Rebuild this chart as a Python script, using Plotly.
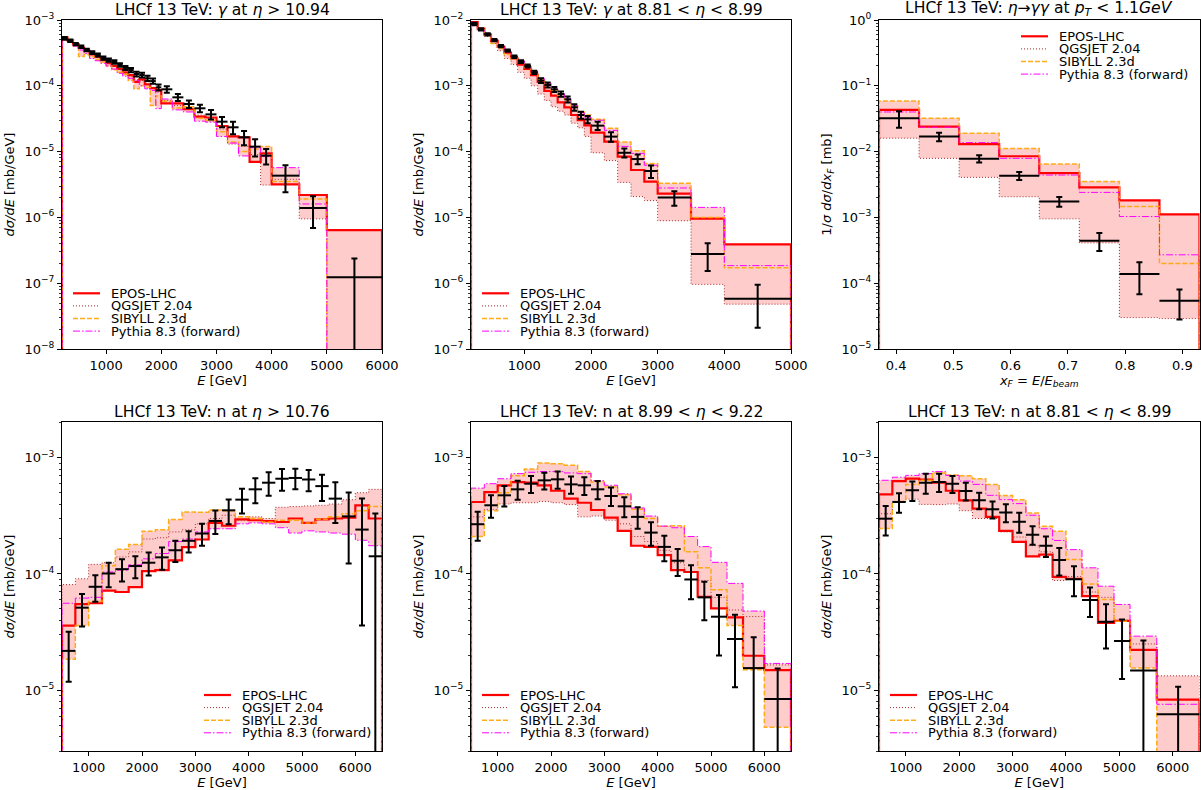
import numpy as np
import plotly.graph_objects as go

# ---------------- data ----------------
# Panel 1: photons, eta > 10.94
g1_edges = [200, 300, 400, 500, 600, 700, 800, 900, 1000, 1100, 1200, 1300, 1400, 1500, 1600, 1700, 1800, 1900, 2000,
            2200, 2400, 2600, 2800, 3000, 3200, 3400, 3600, 3800, 4000, 4500, 5000, 6000]
g1_data = [5.26e-4, 4.85e-4, 4.31e-4, 3.93e-4, 3.50e-4, 3.19e-4, 2.94e-4, 2.64e-4, 2.46e-4, 2.30e-4, 2.07e-4, 1.87e-4,
           1.74e-4, 1.51e-4, 1.46e-4, 1.30e-4, 1.18e-4, 9.48e-5, 8.84e-5, 6.68e-5, 5.29e-5, 4.55e-5, 3.68e-5, 2.85e-5,
           2.34e-5, 1.65e-5, 1.19e-5, 8.68e-6, 4.31e-6, 1.39e-6, 1.23e-7]
g1_err = [2.5e-5, 2.0e-5, 1.8e-5, 1.6e-5, 1.5e-5, 1.5e-5, 1.5e-5, 1.5e-5, 1.4e-5, 1.4e-5, 1.3e-5, 1.3e-5, 1.3e-5,
          1.2e-5, 1.2e-5, 1.2e-5, 1.1e-5, 1.0e-5, 1.0e-5, 8e-6, 7e-6, 6e-6, 6e-6, 5e-6, 5e-6, 4e-6, 3.5e-6, 2.3e-6,
          1.9e-6, 7e-7, 1.15e-7]
g1_epos = [5.4e-4, 4.9e-4, 4.3e-4, 3.8e-4, 3.4e-4, 3.0e-4, 2.75e-4, 2.45e-4, 2.2e-4, 2.0e-4, 1.8e-4, 1.6e-4, 1.45e-4,
           1.15e-4, 1.25e-4, 1.05e-4, 9.2e-5, 8.6e-5, 5.4e-5, 5.4e-5, 4.4e-5, 3.4e-5, 3.3e-5, 2.45e-5, 1.7e-5, 1.65e-5,
           7.0e-6, 9.4e-6, 3.18e-6, 2.19e-6, 6.4e-7]
g1_qgs = [5.3e-4, 4.8e-4, 4.2e-4, 3.7e-4, 3.3e-4, 3.0e-4, 2.7e-4, 2.4e-4, 2.2e-4, 2.0e-4, 1.75e-4, 1.55e-4, 1.4e-4,
          1.25e-4, 1.2e-4, 1.1e-4, 9.5e-5, 8.0e-5, 6.0e-5, 5.0e-5, 4.5e-5, 3.6e-5, 2.9e-5, 2.2e-5, 1.3e-5, 1.2e-5,
          9.0e-6, 3.1e-6, 3.8e-6, 9.5e-7, 0]
g1_sib = [5.5e-4, 4.7e-4, 4.1e-4, 2.8e-4, 3.0e-4, 2.8e-4, 2.5e-4, 2.3e-4, 2.0e-4, 1.75e-4, 1.6e-4, 1.5e-4, 1.2e-4,
          9.0e-5, 1.0e-4, 9.5e-5, 5.0e-5, 7.0e-5, 5.8e-5, 4.6e-5, 4.8e-5, 3.2e-5, 3.0e-5, 2.0e-5, 1.4e-5, 1.0e-5,
          1.1e-5, 1.2e-5, 3.5e-6, 1.9e-6, 0]
g1_py = [5.2e-4, 4.6e-4, 4.0e-4, 3.5e-4, 3.1e-4, 2.6e-4, 2.4e-4, 2.2e-4, 2.0e-4, 1.8e-4, 1.55e-4, 1.4e-4, 1.3e-4,
         1.2e-4, 1.0e-4, 9.0e-5, 8.5e-5, 4.5e-5, 6.3e-5, 4.3e-5, 4.0e-5, 2.9e-5, 2.8e-5, 1.7e-5, 1.35e-5, 8.6e-6,
         1.15e-5, 8.4e-6, 5.7e-6, 1.6e-6, 0]

# Panel 2: photons, 8.81 < eta < 8.99
g2_edges = [200, 300, 400, 500, 600, 700, 800, 900, 1000, 1100, 1200, 1300, 1400, 1500, 1600, 1700, 1800, 1900, 2000,
            2200, 2400, 2600, 2800, 3000, 3500, 4000, 5000]
g2_data = [8.7e-3, 7.2e-3, 6.05e-3, 4.96e-3, 4.02e-3, 3.42e-3, 2.77e-3, 2.33e-3, 2.0e-3, 1.6e-3, 1.2e-3, 1.03e-3,
           8.83e-4, 7.5e-4, 6.22e-4, 4.71e-4, 3.6e-4, 3.09e-4, 2.48e-4, 1.69e-4, 9.6e-5, 7.7e-5, 5.07e-5, 2.0e-5,
           2.78e-6, 5.8e-7]
g2_err = [3.5e-4, 2.8e-4, 2.3e-4, 1.9e-4, 1.6e-4, 1.4e-4, 1.2e-4, 1.1e-4, 1.0e-4, 9e-5, 1.0e-4, 9e-5, 8e-5, 7e-5,
          6.5e-5, 5.5e-5, 4.5e-5, 4e-5, 3.5e-5, 2.8e-5, 1.5e-5, 1.3e-5, 1.1e-5, 5e-6, 1.25e-6, 3.7e-7]
g2_epos = [9.3e-3, 7.4e-3, 6.0e-3, 4.8e-3, 3.9e-3, 3.2e-3, 2.6e-3, 2.1e-3, 1.8e-3, 1.45e-3, 1.15e-3, 8.4e-4, 7.1e-4,
           5.6e-4, 4.7e-4, 3.6e-4, 3.0e-4, 2.5e-4, 1.94e-4, 1.42e-4, 8.4e-5, 5.25e-5, 3.5e-5, 2.3e-5, 9.6e-6, 3.9e-6]
g2_qgs = [9.0e-3, 7.0e-3, 5.6e-3, 4.4e-3, 3.4e-3, 2.6e-3, 2.1e-3, 1.6e-3, 1.3e-3, 1.0e-3, 7.5e-4, 6.0e-4, 4.8e-4,
          4.1e-4, 3.6e-4, 2.7e-4, 2.3e-4, 1.7e-4, 9.6e-5, 7.3e-5, 3.4e-5, 2.07e-5, 1.8e-5, 8.9e-6, 9.6e-7, 4.8e-7]
g2_sib = [8.6e-3, 7.1e-3, 5.8e-3, 4.4e-3, 3.7e-3, 3.0e-3, 2.6e-3, 2.2e-3, 1.9e-3, 1.55e-3, 1.25e-3, 1.05e-3, 8.6e-4,
          7.2e-4, 6.0e-4, 4.9e-4, 4.0e-4, 3.6e-4, 3.1e-4, 2.26e-4, 1.4e-4, 1.03e-4, 6.6e-5, 3.3e-5, 1.0e-5, 1.72e-6]
g2_py = [8.8e-3, 7.2e-3, 6.0e-3, 4.9e-3, 4.0e-3, 3.3e-3, 2.8e-3, 2.4e-3, 2.0e-3, 1.65e-3, 1.3e-3, 1.1e-3, 9.0e-4,
         7.6e-4, 6.4e-4, 5.0e-4, 3.9e-4, 3.3e-4, 3.0e-4, 2.1e-4, 1.2e-4, 9.4e-5, 6.2e-5, 2.8e-5, 1.42e-5, 1.85e-6]

# Panel 3: eta meson -> gamma gamma, pT < 1.1 GeV
e_edges = [0.37, 0.44, 0.51, 0.58, 0.65, 0.72, 0.79, 0.86, 0.93]
e_data = [3.2e-2, 1.69e-2, 7.8e-3, 4.3e-3, 1.75e-3, 4.43e-4, 1.38e-4, 5.4e-5]
e_err = [9e-3, 2.5e-3, 1.0e-3, 6e-4, 3e-4, 1.35e-4, 7e-5, 2.6e-5]
e_epos = [4.3e-2, 2.39e-2, 1.3e-2, 8.5e-3, 4.7e-3, 2.86e-3, 1.82e-3, 1.11e-3]
e_qgs = [1.6e-2, 7.9e-3, 4.06e-3, 2.06e-3, 9.5e-4, 4.1e-4, 3.0e-5, 2.9e-5]
e_sib = [5.9e-2, 3.2e-2, 1.9e-2, 1.11e-2, 6.5e-3, 3.5e-3, 1.46e-3, 2.0e-4]
e_py = [4.0e-2, 2.35e-2, 1.37e-2, 7.9e-3, 4.4e-3, 2.4e-3, 1.03e-3, 2.7e-4]

# Panel 4: neutrons, eta > 10.76
n1_edges = [500, 750, 1000, 1250, 1500, 1750, 2000, 2250, 2500, 2750, 3000, 3250, 3500, 3750, 4000, 4250, 4500,
            4750, 5000, 5250, 5500, 5750, 6000, 6250, 6500]
n1_data = [2.18e-5, 5.13e-5, 7.76e-5, 1.01e-4, 1.10e-4, 1.17e-4, 1.25e-4, 1.39e-4, 1.6e-4, 1.93e-4, 2.23e-4, 2.86e-4,
           3.53e-4, 4.36e-4, 5.35e-4, 6.1e-4, 6.6e-4, 6.7e-4, 6.5e-4, 5.7e-4, 4.45e-4, 3.13e-4, 2.41e-4, 1.42e-4]
n1_err = [1.0e-5, 1.6e-5, 2.0e-5, 2.4e-5, 2.4e-5, 2.5e-5, 2.8e-5, 3.0e-5, 3.3e-5, 4.0e-5, 4.8e-5, 6.5e-5, 8.5e-5,
          1.05e-4, 1.3e-4, 1.4e-4, 1.4e-4, 1.35e-4, 1.35e-4, 1.45e-4, 1.7e-4, 1.9e-4, 2.05e-4, 1.9e-4]
n1_epos = [3.6e-5, 5.5e-5, 5.6e-5, 7.2e-5, 7.0e-5, 7.7e-5, 1.06e-4, 1.08e-4, 1.31e-4, 1.7e-4, 1.98e-4, 2.75e-4,
           2.6e-4, 2.95e-4, 2.9e-4, 2.85e-4, 2.8e-4, 3.0e-4, 2.75e-4, 2.95e-4, 3.0e-4, 3.05e-4, 3.9e-4, 3.0e-4]
n1_qgs = [8.1e-5, 9.1e-5, 1.21e-4, 1.25e-4, 1.4e-4, 1.55e-4, 2.0e-4, 2.05e-4, 2.3e-4, 2.4e-4, 2.7e-4, 3.0e-4,
          3.2e-4, 2.9e-4, 3.1e-4, 3.0e-4, 3.75e-4, 3.8e-4, 3.85e-4, 3.9e-4, 4.0e-4, 4.35e-4, 5.0e-4, 5.35e-4]
n1_sib = [1.85e-5, 3.6e-5, 5.8e-5, 1.18e-4, 1.63e-4, 1.79e-4, 2.33e-4, 2.4e-4, 2.94e-4, 3.42e-4, 3.4e-4, 3.55e-4,
          3.5e-4, 3.1e-4, 3.0e-4, 2.8e-4, 2.9e-4, 2.9e-4, 2.75e-4, 2.95e-4, 3.1e-4, 3.3e-4, 3.5e-4, 3.8e-4]
n1_py = [5.6e-5, 6.2e-5, 6.3e-5, 1.04e-4, 1.08e-4, 1.2e-4, 1.35e-4, 1.5e-4, 1.9e-4, 2.0e-4, 2.3e-4, 2.45e-4,
         2.45e-4, 2.7e-4, 2.75e-4, 2.7e-4, 2.5e-4, 2.25e-4, 2.35e-4, 2.3e-4, 2.25e-4, 2.2e-4, 1.95e-4, 1.75e-4]

# Panel 5: neutrons, 8.99 < eta < 9.22
n2_edges = [500, 750, 1000, 1250, 1500, 1750, 2000, 2250, 2500, 2750, 3000, 3250, 3500, 3750, 4000, 4250, 4500,
            4750, 5000, 5300, 5600, 6000, 6500]
n2_data = [2.68e-4, 3.9e-4, 4.75e-4, 5.35e-4, 5.98e-4, 6.39e-4, 6.52e-4, 5.9e-4, 5.79e-4, 5.35e-4, 4.69e-4, 3.82e-4,
           3.1e-4, 2.27e-4, 1.71e-4, 1.3e-4, 8.97e-5, 6.29e-5, 4.29e-5, 2.76e-5, 1.55e-5, 8.4e-6]
n2_err = [7.5e-5, 8.5e-5, 9.5e-5, 1.0e-4, 1.0e-4, 1.05e-4, 1.1e-4, 1.0e-4, 1.0e-4, 9.5e-5, 8.5e-5, 7.5e-5, 6.5e-5,
          5.2e-5, 4.2e-5, 3.4e-5, 2.9e-5, 2.3e-5, 2.3e-5, 1.7e-5, 1.3e-5, 7e-6]
n2_epos = [4.16e-4, 5.07e-4, 5.78e-4, 6.18e-4, 6.1e-4, 5.78e-4, 5.2e-4, 4.45e-4, 4.1e-4, 3.55e-4, 3.05e-4, 2.35e-4,
           1.75e-4, 1.71e-4, 1.45e-4, 1.08e-4, 1.04e-4, 6.37e-5, 5.06e-5, 4.24e-5, 1.98e-5, 1.49e-5]
n2_qgs = [3.1e-4, 3.6e-4, 4.0e-4, 4.1e-4, 4.1e-4, 4.2e-4, 4.1e-4, 3.95e-4, 3.1e-4, 3.15e-4, 2.9e-4, 2.7e-4, 2.1e-4,
          1.9e-4, 1.6e-4, 1.25e-4, 1.05e-4, 8.8e-5, 6.3e-5, 4.9e-5, 4.3e-5, 1.65e-5]
n2_sib = [2.1e-4, 3.5e-4, 5.0e-4, 7.0e-4, 8.0e-4, 9.0e-4, 8.9e-4, 8.6e-4, 7.6e-4, 6.2e-4, 5.6e-4, 4.8e-4, 3.6e-4,
          3.0e-4, 2.58e-4, 2.6e-4, 1.55e-4, 1.13e-4, 7.3e-5, 3.6e-5, 1.5e-5, 4.8e-6]
n2_py = [5.48e-4, 5.98e-4, 6.6e-4, 7.3e-4, 7.5e-4, 7.6e-4, 7.6e-4, 7.4e-4, 7.3e-4, 6.35e-4, 5.8e-4, 4.9e-4, 3.7e-4,
         3.15e-4, 2.58e-4, 2.5e-4, 2.1e-4, 1.72e-4, 1.26e-4, 8.3e-5, 4.8e-5, 1.7e-5]

# Panel 6: neutrons, 8.81 < eta < 8.99
n3_edges = [500, 750, 1000, 1250, 1500, 1750, 2000, 2250, 2500, 2750, 3000, 3250, 3500, 3750, 4000, 4300, 4600,
            4900, 5200, 5700, 6500]
n3_data = [2.99e-4, 4.16e-4, 5.25e-4, 6.1e-4, 6.18e-4, 5.98e-4, 5.18e-4, 4.3e-4, 3.6e-4, 3.38e-4, 2.81e-4, 2.18e-4,
           1.75e-4, 1.32e-4, 9.03e-5, 5.96e-5, 3.89e-5, 2.65e-5, 1.48e-5, 6.2e-6]
n3_err = [8.5e-5, 8e-5, 1.0e-4, 1.2e-4, 1.1e-4, 1.0e-4, 9e-5, 7e-5, 6e-5, 6e-5, 5.5e-5, 4e-5, 3.5e-5, 3.5e-5,
          2.6e-5, 1.7e-5, 1.6e-5, 1.4e-5, 1.2e-5, 4.5e-6]
n3_epos = [4.84e-4, 6.3e-4, 6.6e-4, 6.5e-4, 6.1e-4, 5.2e-4, 4.3e-4, 3.65e-4, 3.1e-4, 2.35e-4, 1.89e-4, 1.42e-4,
           1.47e-4, 9.45e-5, 9.1e-5, 6.45e-5, 3.8e-5, 3.95e-5, 2.22e-5, 8.3e-6]
n3_qgs = [3.3e-4, 4.2e-4, 4.4e-4, 3.97e-4, 3.95e-4, 4.0e-4, 3.5e-4, 3.0e-4, 3.0e-4, 2.3e-4, 2.08e-4, 1.75e-4,
          1.55e-4, 8.8e-5, 9.5e-5, 7.0e-5, 6.3e-5, 4.0e-5, 2.5e-5, 1.33e-5]
n3_sib = [2.46e-4, 4.2e-4, 5.9e-4, 6.4e-4, 7.4e-4, 7.1e-4, 7.0e-4, 6.6e-4, 5.9e-4, 4.74e-4, 4.36e-4, 3.34e-4,
          2.57e-4, 2.33e-4, 1.33e-4, 8.2e-5, 6.03e-5, 3.93e-5, 1.55e-5, 0]
n3_py = [6.4e-4, 6.8e-4, 7.05e-4, 7.3e-4, 7.6e-4, 7.05e-4, 6.3e-4, 5.9e-4, 4.75e-4, 4.36e-4, 4.03e-4, 3.2e-4,
         2.45e-4, 1.94e-4, 1.62e-4, 1.13e-4, 7.85e-5, 5.47e-5, 2.92e-5, 7.57e-6]

model_names = ["EPOS-LHC", "QGSJET 2.04", "SIBYLL 2.3d", "Pythia 8.3 (forward)"]

titles = [
    "LHCf 13 TeV: <i>γ</i> at <i>η</i> &gt; 10.94",
    "LHCf 13 TeV: <i>γ</i> at 8.81 &lt; <i>η</i> &lt; 8.99",
    "LHCf 13 TeV: <i>η</i>→<i>γγ</i> at <i>p<sub>T</sub></i> &lt; 1.1<i>GeV</i>",
    "LHCf 13 TeV: n at <i>η</i> &gt; 10.76",
    "LHCf 13 TeV: n at 8.99 &lt; <i>η</i> &lt; 9.22",
    "LHCf 13 TeV: n at 8.81 &lt; <i>η</i> &lt; 8.99",
]
ytitle_E = "<i>dσ/dE</i> [mb/GeV]"
ytitle_xf = "1/<i>σ dσ</i>/<i>dx<sub>F</sub></i> [mb]"
xtitle_E = "<i>E</i> [GeV]"
xtitle_xf = "<i>x<sub>F</sub></i> = <i>E</i>/<i>E<sub>beam</sub></i>"

# ---------------- styling / layout ----------------
W, H = 1201, 790
FONT = "DejaVu Sans"
FLOOR = 1e-15
styles = [
    dict(color="red", width=2.2, dash="solid"),
    dict(color="rgb(165,42,42)", width=1, dash="1px,2px"),
    dict(color="rgba(255,165,0,0.9)", width=1.5, dash="5px,2px"),
    dict(color="magenta", width=1, dash="7px,2px,1.5px,2px"),
]
# target positions on the screen (px)
cols_px = [(62, 382), (471, 791), (879, 1199.5)]
rows_px = [(20, 349), (422, 751)]
NROW_GAP = 12.6  # legend row spacing (px)


def px_x(x):
    return x / W


def px_y(y):
    return 1 - y / H


panels = [
    dict(edges=g1_edges, data=g1_data, err=g1_err, models=[g1_epos, g1_qgs, g1_sib, g1_py],
         xr=[200, 6000], yr=[-8, -3], dtick=1000, xt=xtitle_E, yt=ytitle_E, leg=(73, 293.3)),
    dict(edges=g2_edges, data=g2_data, err=g2_err, models=[g2_epos, g2_qgs, g2_sib, g2_py],
         xr=[200, 5000], yr=[-7, -2], dtick=1000, xt=xtitle_E, yt=ytitle_E, leg=(482, 293.3)),
    dict(edges=e_edges, data=e_data, err=e_err, models=[e_epos, e_qgs, e_sib, e_py],
         xr=[0.37, 0.93], yr=[-5, 0], dtick=0.1, xt=xtitle_xf, yt=ytitle_xf, leg=(1021, 36.3)),
    dict(edges=n1_edges, data=n1_data, err=n1_err, models=[n1_epos, n1_qgs, n1_sib, n1_py],
         xr=[500, 6500], yr=[np.log10(3.0e-6), np.log10(2.03e-3)], dtick=1000, xt=xtitle_E, yt=ytitle_E,
         leg=(204, 695)),
    dict(edges=n2_edges, data=n2_data, err=n2_err, models=[n2_epos, n2_qgs, n2_sib, n2_py],
         xr=[500, 6500], yr=[np.log10(3.0e-6), np.log10(2.03e-3)], dtick=1000, xt=xtitle_E, yt=ytitle_E,
         leg=(482, 695)),
    dict(edges=n3_edges, data=n3_data, err=n3_err, models=[n3_epos, n3_qgs, n3_sib, n3_py],
         xr=[500, 6500], yr=[np.log10(3.0e-6), np.log10(2.03e-3)], dtick=1000, xt=xtitle_E, yt=ytitle_E,
         leg=(890, 695)),
]

SUPMINUS = "\u2212"

fig = go.Figure()
layout = dict(width=W, height=H, margin=dict(l=0, r=0, t=0, b=0, pad=0, autoexpand=False),
              paper_bgcolor="white", plot_bgcolor="white",
              font=dict(family=FONT, size=13, color="black"), showlegend=False)
annotations = []
shapes = []

for i, p in enumerate(panels):
    r, c = divmod(i, 3)
    sfx = "" if i == 0 else str(i + 1)
    xa, ya = "x" + sfx, "y" + sfx
    edges = np.array(p["edges"], dtype=float)
    centers = 0.5 * (edges[:-1] + edges[1:])
    halfw = 0.5 * (edges[1:] - edges[:-1])
    mods = [np.where(np.array(m, dtype=float) > 0, np.array(m, dtype=float), FLOOR) for m in p["models"]]
    lo = np.min(mods, axis=0)
    hi = np.max(mods, axis=0)
    # band between the models
    fig.add_trace(go.Scatter(x=edges, y=np.append(lo, lo[-1]), mode="lines", line=dict(width=0, shape="hv"),
                             xaxis=xa, yaxis=ya, showlegend=False, hoverinfo="skip"))
    fig.add_trace(go.Scatter(x=edges, y=np.append(hi, hi[-1]), mode="lines", line=dict(width=0, shape="hv"),
                             fill="tonexty", fillcolor="rgba(255,0,0,0.2)", xaxis=xa, yaxis=ya,
                             showlegend=False, hoverinfo="skip"))
    # model step histograms
    for k, (m, st) in enumerate(zip(mods, styles)):
        xs = np.concatenate([[edges[0]], edges, [edges[-1]]])
        ys = np.concatenate([[FLOOR], m, [m[-1], FLOOR]])
        fig.add_trace(go.Scatter(x=xs, y=ys, mode="lines", name=model_names[k],
                                 line=dict(color=st["color"], width=st["width"], dash=st["dash"], shape="hv"),
                                 xaxis=xa, yaxis=ya, showlegend=False))
    # data points
    d = np.array(p["data"], dtype=float)
    e = np.array(p["err"], dtype=float)
    eminus = np.minimum(e, 0.99 * d)
    fig.add_trace(go.Scatter(x=centers, y=d, mode="markers", marker=dict(size=1, color="black"),
                             error_x=dict(type="data", array=halfw, color="black", thickness=2, width=0),
                             error_y=dict(type="data", array=e, arrayminus=eminus, symmetric=False,
                                          color="black", thickness=2, width=3),
                             xaxis=xa, yaxis=ya, showlegend=False))

    x0, x1 = cols_px[c]
    y0, y1 = rows_px[r]
    dom_x = [px_x(x0), px_x(x1)]
    dom_y = [px_y(y1), px_y(y0)]
    lo_dec = int(np.floor(p["yr"][0]))
    hi_dec = int(np.ceil(p["yr"][1]))
    major_exp = [n for n in range(lo_dec, hi_dec + 1) if p["yr"][0] - 1e-9 <= n <= p["yr"][1] + 1e-9]
    major_vals = [10.0 ** n for n in major_exp]
    major_text = ["10<sup>%s</sup>" % (str(n).replace("-", SUPMINUS)) for n in major_exp]
    minor_vals = [k * 10.0 ** n for n in range(lo_dec, hi_dec) for k in range(2, 10)]
    layout["xaxis" + sfx] = dict(domain=dom_x, range=p["xr"], anchor=ya, tick0=0, dtick=p["dtick"],
                                 ticks="outside", ticklen=4, tickwidth=1, tickcolor="black",
                                 showline=True, linecolor="black", linewidth=1, mirror=True,
                                 showgrid=False, zeroline=False, automargin=False,
                                 tickfont=dict(family=FONT, size=13, color="black"),
                                 title=dict(text=p["xt"], font=dict(family=FONT, size=13), standoff=2))
    layout["yaxis" + sfx] = dict(domain=dom_y, type="log", range=p["yr"], anchor=xa,
                                 tickmode="array", tickvals=major_vals, ticktext=major_text,
                                 ticks="outside", ticklen=4, tickwidth=1,
                                 tickcolor="black", showline=True, linecolor="black", linewidth=1,
                                 mirror=True, showgrid=False, zeroline=False, automargin=False,
                                 minor=dict(tickmode="array", tickvals=minor_vals, ticks="outside", ticklen=2,
                                            tickcolor="black", tickwidth=0.8),
                                 tickfont=dict(family=FONT, size=13, color="black"),
                                 title=dict(text=p["yt"], font=dict(family=FONT, size=13), standoff=6))
    # panel title
    annotations.append(dict(text=titles[i], x=px_x((x0 + x1) / 2), y=px_y(y0), xref="paper", yref="paper",
                            xanchor="center", yanchor="bottom", showarrow=False, yshift=-1,
                            font=dict(family=FONT, size=15.6, color="black")))
    # legend (line samples + text, compact matplotlib-like rows)
    lx, ly = p["leg"]
    for k, st in enumerate(styles):
        yy = px_y(ly + k * NROW_GAP)
        shapes.append(dict(type="line", xref="paper", yref="paper", x0=px_x(lx), x1=px_x(lx + 27), y0=yy, y1=yy,
                           line=dict(color=st["color"], width=st["width"], dash=st["dash"])))
        annotations.append(dict(text=model_names[k], x=px_x(lx + 37), y=yy, xref="paper", yref="paper",
                                xanchor="left", yanchor="middle", showarrow=False, borderpad=0,
                                font=dict(family=FONT, size=13, color="black")))

layout["annotations"] = annotations
layout["shapes"] = shapes
fig.update_layout(**layout)
# remove the default page margin so the figure sits at the window's top-left corner
fig.write_html("out.html", config={"displayModeBar": False, "staticPlot": True},
               post_script="document.body.style.margin='0';document.body.style.overflow='hidden';")
